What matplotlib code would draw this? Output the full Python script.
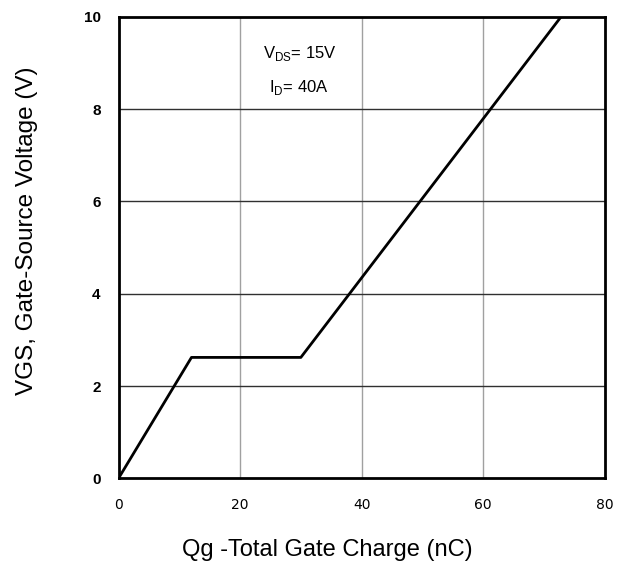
import matplotlib.pyplot as plt

# ================= DATA =================
qg = [0, 12.0, 30.0, 72.8]        # nC
vgs = [0, 2.62, 2.62, 10.0]       # V
x_ticks = [0, 20, 40, 60, 80]
y_ticks = [0, 2, 4, 6, 8, 10]

plt.rcParams['font.family'] = ['Liberation Sans', 'DejaVu Sans']

fig = plt.figure(figsize=(6.24, 5.66), dpi=100)
ax = fig.add_axes([0.19, 0.155, 0.779, 0.815])

# grid: vertical gray, horizontal dark
for x in x_ticks[1:-1]:
    ax.axvline(x, color='#a0a0a0', lw=1.0, zorder=1)
for y in y_ticks[1:-1]:
    ax.axhline(y, color='#303030', lw=1.0, zorder=1)

ax.plot(qg, vgs, color='black', lw=2.0, zorder=3)

ax.set_xlim(0, 80)
ax.set_ylim(0, 10)
ax.set_xticks(x_ticks)
ax.set_yticks(y_ticks)
ax.tick_params(axis='x', length=0, pad=14)
ax.tick_params(axis='y', length=0, pad=13)
for lbl in ax.get_xticklabels():
    lbl.set_family('DejaVu Sans')
    lbl.set_fontsize(10)
for lbl in ax.get_yticklabels():
    lbl.set_fontsize(11)
    lbl.set_fontweight('bold')
    lbl.set_fontstretch('condensed')
for s in ax.spines.values():
    s.set_linewidth(2.0)

ax.set_xlabel('Qg -Total Gate Charge (nC)', fontsize=17)
ax.set_ylabel('VGS, Gate-Source Voltage (V)', fontsize=17.5)
ax.xaxis.set_label_coords(0.43, -0.156)
ax.yaxis.set_label_coords(-0.188, 0.536)
ax.xaxis.label.set_va('center')
ax.yaxis.label.set_va('center')

ax.text(23.8, 9.2, r'V$_{\mathregular{DS}}$= 15V', fontsize=12, va='center')
ax.text(24.8, 8.47, r'I$_{\mathregular{D}}$= 40A', fontsize=12, va='center')

plt.savefig('out.png', dpi=100)
plt.close()
